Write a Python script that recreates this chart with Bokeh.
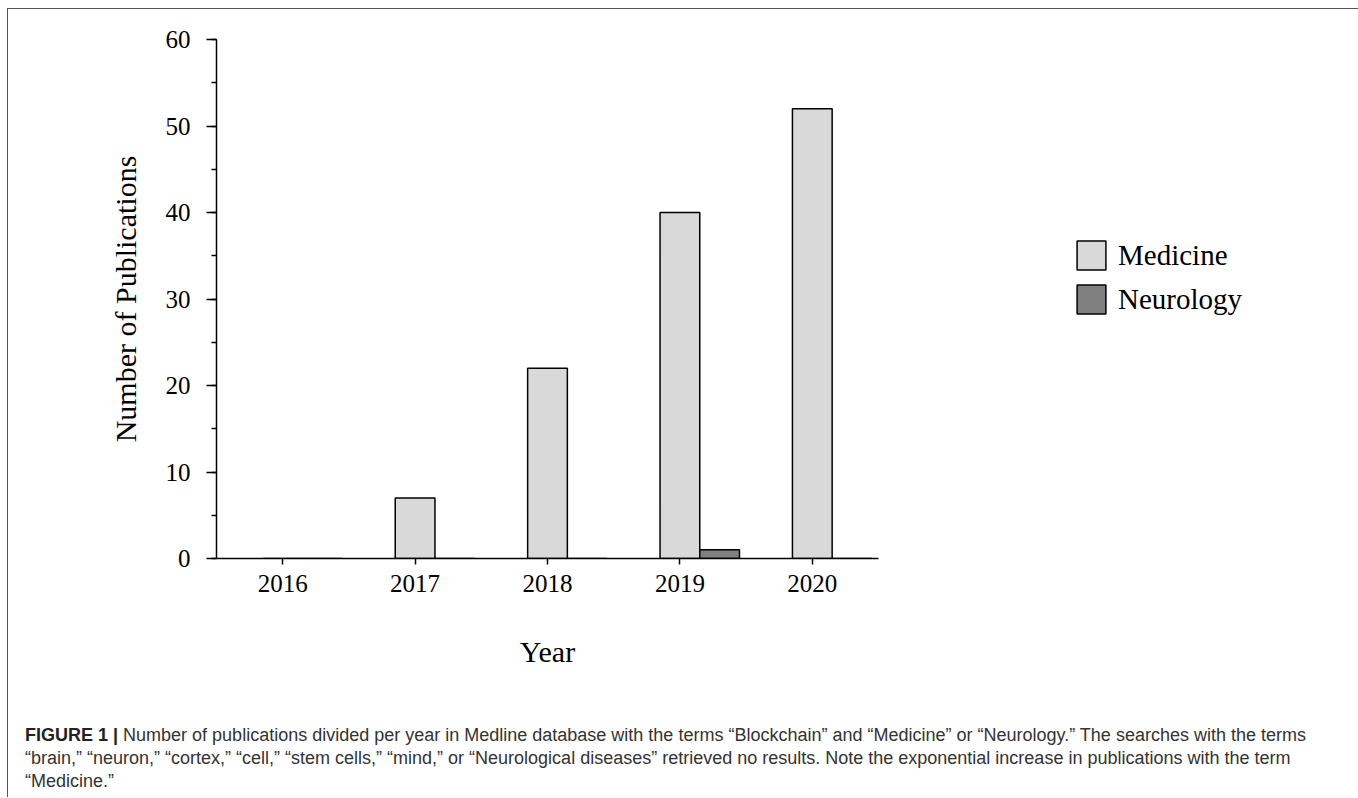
from bokeh.plotting import figure
from bokeh.layouts import column
from bokeh.models import (ColumnDataSource, FactorRange, Range1d, SingleIntervalTicker,
                          Legend, LegendItem, Div)
from bokeh.transform import dodge
from bokeh.embed import file_html
from bokeh.resources import INLINE

years = ["2016", "2017", "2018", "2019", "2020"]
medicine = [0, 7, 22, 40, 52]
neurology = [0, 0, 0, 1, 0]
series_names = ["Medicine", "Neurology"]
series_colors = ["#d9d9d9", "#808080"]
y_label = "Number of Publications"
x_label = "Year"
caption_bold = "FIGURE 1 |"
caption_lines = [
    "Number of publications divided per year in Medline database with the terms \u201cBlockchain\u201d and \u201cMedicine\u201d or \u201cNeurology.\u201d The searches with the terms",
    "\u201cbrain,\u201d \u201cneuron,\u201d \u201ccortex,\u201d \u201ccell,\u201d \u201cstem cells,\u201d \u201cmind,\u201d or \u201cNeurological diseases\u201d retrieved no results. Note the exponential increase in publications with the term",
    "\u201cMedicine.\u201d",
]

SERIF = "Liberation Serif"
SANS = "Liberation Sans"

src = ColumnDataSource(dict(year=years, medicine=medicine, neurology=neurology))

TOTAL_W = 1346
CHART_H = 680
p = figure(frame_width=662, frame_height=519,
           x_range=FactorRange(*years, range_padding=0), y_range=Range1d(0, 60),
           output_backend="svg", toolbar_location=None,
           min_border_left=208, min_border_right=TOTAL_W - 208 - 662, min_border_top=30,
           min_border_bottom=CHART_H - 30 - 519)
p.outline_line_color = None
p.grid.grid_line_color = None

bw = 0.30
r1 = p.vbar(x=dodge("year", 0.0, range=p.x_range), top="medicine", width=bw, source=src,
            fill_color=series_colors[0], line_color="black", line_width=1.5)
r2 = p.vbar(x=dodge("year", bw, range=p.x_range), top="neurology", width=bw, source=src,
            fill_color=series_colors[1], line_color="black", line_width=1.5)

p.yaxis.ticker = SingleIntervalTicker(interval=10, num_minor_ticks=2)
for ax in (p.xaxis[0], p.yaxis[0]):
    ax.axis_line_color = "black"
    ax.axis_line_width = 1.5
    ax.major_tick_line_color = "black"
    ax.major_tick_line_width = 1.5
    ax.minor_tick_line_color = "black"
    ax.minor_tick_line_width = 1.5
    ax.major_label_text_font = SERIF
    ax.major_label_text_font_size = "25px"
    ax.major_label_text_color = "black"
    ax.axis_label_text_font = SERIF
    ax.axis_label_text_font_size = "30px"
    ax.axis_label_text_font_style = "normal"
    ax.axis_label_text_color = "black"
p.yaxis.major_tick_out = 10
p.yaxis.major_tick_in = 0
p.yaxis.minor_tick_out = 5
p.yaxis.minor_tick_in = 0
p.yaxis.major_label_standoff = 16
p.yaxis.axis_label = y_label
p.yaxis.axis_label_standoff = 21
p.xaxis.major_tick_out = 6
p.xaxis.major_tick_in = 0
p.xaxis.major_label_standoff = 10
p.xaxis.axis_label = x_label
p.xaxis.axis_label_standoff = 40

legend = Legend(items=[LegendItem(label=series_names[0], renderers=[r1]),
                       LegendItem(label=series_names[1], renderers=[r2])],
                location=(195, 241), orientation="vertical",
                glyph_width=36, glyph_height=36, label_height=36, spacing=8,
                padding=0, margin=0, label_standoff=9,
                label_text_font=SERIF, label_text_font_size="29px",
                label_text_color="black", border_line_color=None,
                background_fill_alpha=0)
p.add_layout(legend, "right")

caption_html = (
    '<div style="font-family: \'Liberation Sans\', Arial, sans-serif; font-size: 18px; '
    'line-height: 23px; color: #333; white-space: nowrap; padding: 35px 0 0 17px;">'
    '<b style="color:#222">' + caption_bold + '</b> ' + "<br>".join(caption_lines) + '</div>'
)
cap = Div(text=caption_html, width=TOTAL_W, height=798 - 10 - CHART_H, margin=0)

layout = column(p, cap, margin=(8, 0, 0, 7),
                styles={"border": "1px solid #555", "border-bottom": "0"})

open("out.html", "w").write(file_html(layout, INLINE))
